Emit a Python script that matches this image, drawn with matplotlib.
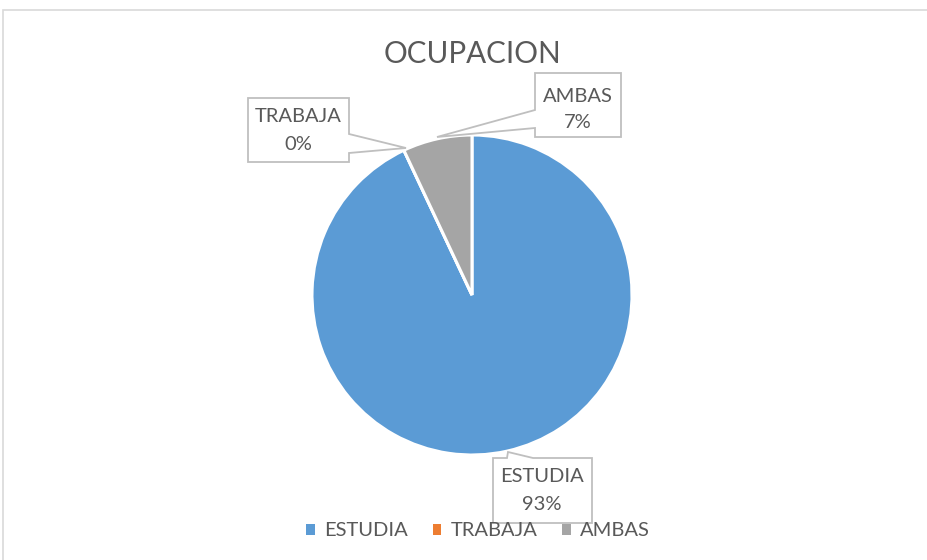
import matplotlib
matplotlib.use("Agg")
import matplotlib.pyplot as plt
from matplotlib.patches import Polygon, Rectangle
import numpy as np

plt.rcParams['font.family'] = ['Lato', 'DejaVu Sans']

title = "OCUPACION"
categories = ["ESTUDIA", "TRABAJA", "AMBAS"]
values = [93, 0, 7]
colors = ["#5B9BD5", "#ED7D31", "#A5A5A5"]
text_color = "#595959"

W, H = 928, 560
fig = plt.figure(figsize=(W / 100, H / 100), dpi=100)

def px(x, y):
    return (x / W, 1 - y / H)

# chart border
fig.patches.append(Rectangle(px(3, 600), (W + 10) / W, 590 / H, transform=fig.transFigure,
                             fill=False, edgecolor="#D9D9D9", linewidth=1.2))

cx, cy, r = 472, 295, 160
ax = fig.add_axes([(cx - r) / W, (H - cy - r) / H, 2 * r / W, 2 * r / H])
ax.pie(values, colors=colors, startangle=90, counterclock=False,
       wedgeprops=dict(edgecolor="white", linewidth=2.2))
ax.set_xlim(-1, 1)
ax.set_ylim(-1, 1)
ax.set_aspect("equal")
ax.axis("off")

fig.text(*px(473, 54), title, ha="center", va="center", fontsize=21.3, color=text_color)

total = sum(values)
pcts = [f"{round(v / total * 100)}%" for v in values]

# callout boxes (pixel layout)
callouts = [
    # ESTUDIA
    dict(poly=[(493, 458), (507, 458), (508, 452), (533, 458), (592, 458), (592, 523), (493, 523)],
         center=(542, 490)),
    # TRABAJA
    dict(poly=[(248, 98), (349, 98), (349, 134), (406, 148), (349, 153), (349, 162), (248, 162)],
         center=(298, 130)),
    # AMBAS
    dict(poly=[(535, 73), (621, 73), (621, 137), (535, 137), (535, 128), (437, 137), (535, 110)],
         center=(578, 109)),
]
for cat, pct, c in zip(categories, pcts, callouts):
    pts = [px(x, y) for x, y in c["poly"]]
    fig.patches.append(Polygon(pts, closed=True, transform=fig.transFigure,
                               facecolor="white", edgecolor="#BFBFBF", linewidth=1.3, zorder=5))
    fig.text(*px(c["center"][0], c["center"][1] - 13), cat, ha="center", va="center",
             fontsize=14.5, color=text_color, zorder=6)
    fig.text(*px(c["center"][0], c["center"][1] + 14), pct, ha="center", va="center",
             fontsize=14.5, color=text_color, zorder=6)

# legend
handles = [Rectangle((0, 0), 1, 1, facecolor=col, edgecolor="none") for col in colors]
fig.legend(handles, categories, loc="center", bbox_to_anchor=px(478, 531), ncol=3,
           frameon=False, fontsize=14.5, labelcolor=text_color, handlelength=0.42,
           handleheight=0.42, handletextpad=0.45, columnspacing=1.25)

fig.savefig("out.png", dpi=100)
